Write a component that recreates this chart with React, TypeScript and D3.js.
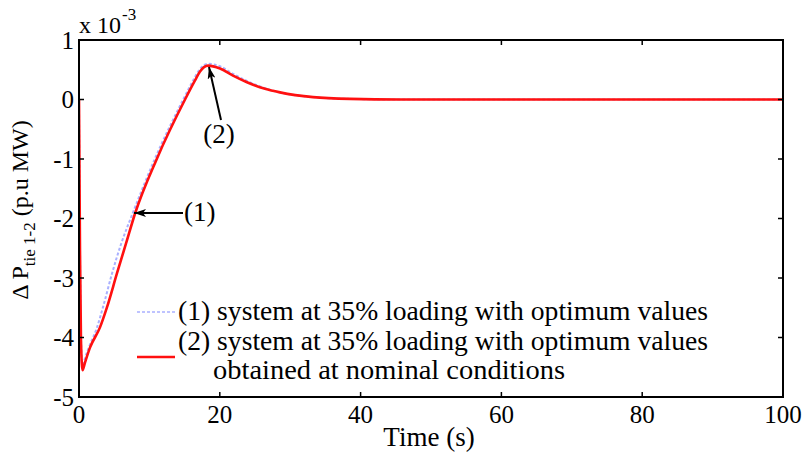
import React from "react";
import * as d3 from "d3";

// Time (s) and ΔP_tie (×10^-3 p.u MW)
const curve2Time = [0, 0.14, 0.28, 0.5, 0.85, 1.56, 2.98, 3.98, 5.4, 6.68, 7.95, 11.08, 15.06, 16.48, 17.19, 18.32, 20.03, 21.88, 23.86, 26.42, 28.55, 33.24, 38.49, 45.6, 55, 70, 85, 100];
const curve2Value = [0, -2.54, -4.05, -4.55, -4.42, -4.17, -3.83, -3.49, -2.92, -2.42, -1.92, -0.99, 0, 0.32, 0.47, 0.57, 0.52, 0.40, 0.29, 0.18, 0.12, 0.04, 0.01, 0, 0, 0, 0, 0];

const curve1Time = [0, 0.14, 0.28, 0.5, 0.85, 1.56, 2.5, 3.5, 4.7, 6.0, 7.6, 10.8, 14.8, 16.3, 17.1, 18.3, 20.0, 21.9, 23.9, 26.4, 28.5, 33.2, 38.5, 45.6, 55, 70, 85, 100];
const curve1Value = [0, -2.5, -4.0, -4.5, -4.35, -4.12, -3.85, -3.45, -2.92, -2.42, -1.92, -0.99, 0, 0.34, 0.5, 0.6, 0.56, 0.43, 0.31, 0.19, 0.12, 0.04, 0.01, 0, 0, 0, 0, 0];

const xTicks = [0, 20, 40, 60, 80, 100];
const yTicks = [1, 0, -1, -2, -3, -4, -5];

const legendLabels = [
  "(1) system at 35% loading with optimum values",
  "(2) system at 35% loading with optimum values",
  "obtained at nominal conditions",
];

const W = 807;
const H = 456;
const L = 79, R = 783, T = 40, B = 397;
const FONT = "'Liberation Serif', 'Times New Roman', serif";

export default function App() {
  const x = d3.scaleLinear().domain([0, 100]).range([L, R]);
  const y = d3.scaleLinear().domain([-5, 1]).range([B, T]);
  const line = d3
    .line<[number, number]>()
    .x((d) => x(d[0]))
    .y((d) => y(d[1]))
    .curve(d3.curveMonotoneX);
  const d1 = line(curve1Time.map((t, i) => [t, curve1Value[i]]) as [number, number][]) || "";
  const d2 = line(curve2Time.map((t, i) => [t, curve2Value[i]]) as [number, number][]) || "";
  const tick = 5;

  return (
    <svg
      width={W}
      height={H}
      style={{ position: "absolute", left: 0, top: 0, background: "#fff" }}
      fontFamily={FONT}
    >
      <defs>
        <marker id="ah" viewBox="0 0 12 8" refX="12" refY="4" markerWidth="12" markerHeight="8" markerUnits="userSpaceOnUse" orient="auto">
          <path d="M0,0 L12,4 L0,8 L3,4 Z" fill="#000" />
        </marker>
        <clipPath id="clip">
          <rect x={L} y={T} width={R - L} height={B - T} />
        </clipPath>
      </defs>
      <rect x={0} y={0} width={W} height={H} fill="#fff" />

      <g clipPath="url(#clip)">
        <path d={d1} fill="none" stroke="#a9b0ff" strokeWidth={2} strokeDasharray="3,2" />
        <path d={d2} fill="none" stroke="#ff1010" strokeWidth={2.6} />
      </g>

      {/* axes box */}
      <rect x={L} y={T} width={R - L} height={B - T} fill="none" stroke="#000" strokeWidth={2} />
      {xTicks.map((t) => (
        <g key={"x" + t}>
          <line x1={x(t)} x2={x(t)} y1={B} y2={B - tick} stroke="#000" strokeWidth={1.5} />
          <line x1={x(t)} x2={x(t)} y1={T} y2={T + tick} stroke="#000" strokeWidth={1.5} />
          <text x={x(t)} y={423} fontSize={25} textAnchor="middle">{t}</text>
        </g>
      ))}
      {yTicks.map((t) => (
        <g key={"y" + t}>
          <line x1={L} x2={L + tick} y1={y(t)} y2={y(t)} stroke="#000" strokeWidth={1.5} />
          <line x1={R} x2={R - tick} y1={y(t)} y2={y(t)} stroke="#000" strokeWidth={1.5} />
          <text x={74} y={y(t)} dy="0.35em" fontSize={25} textAnchor="end">{t}</text>
        </g>
      ))}

      {/* exponent */}
      <text x={79} y={33} fontSize={24}>x 10</text>
      <text x={122} y={20} fontSize={17}>-3</text>

      {/* axis labels */}
      <text x={429} y={446} fontSize={27} textAnchor="middle">Time (s)</text>
      <text transform="translate(28,210) rotate(-90)" fontSize={24} textAnchor="middle">
        Δ P<tspan fontSize={17} dy={7}>tie 1-2</tspan>
        <tspan dy={-7}> (p.u MW)</tspan>
      </text>

      {/* annotations */}
      <line x1={221} y1={120} x2={209} y2={67} stroke="#000" strokeWidth={2} markerEnd="url(#ah)" />
      <text x={219} y={143} fontSize={27} textAnchor="middle">(2)</text>
      <line x1={183} y1={213} x2={134} y2={213} stroke="#000" strokeWidth={2} markerEnd="url(#ah)" />
      <text x={184} y={221} fontSize={27}>(1)</text>

      {/* legend */}
      <line x1={137} x2={175} y1={312} y2={312} stroke="#a9b0ff" strokeWidth={1.6} strokeDasharray="3,2" />
      <text x={178} y={320} fontSize={27} textLength={530} lengthAdjust="spacingAndGlyphs">{legendLabels[0]}</text>
      <line x1={137} x2={175} y1={357} y2={357} stroke="#ff1010" strokeWidth={2.6} />
      <text x={178} y={350} fontSize={27} textLength={530} lengthAdjust="spacingAndGlyphs">{legendLabels[1]}</text>
      <text x={213} y={379} fontSize={27} textLength={352} lengthAdjust="spacingAndGlyphs">{legendLabels[2]}</text>
    </svg>
  );
}
